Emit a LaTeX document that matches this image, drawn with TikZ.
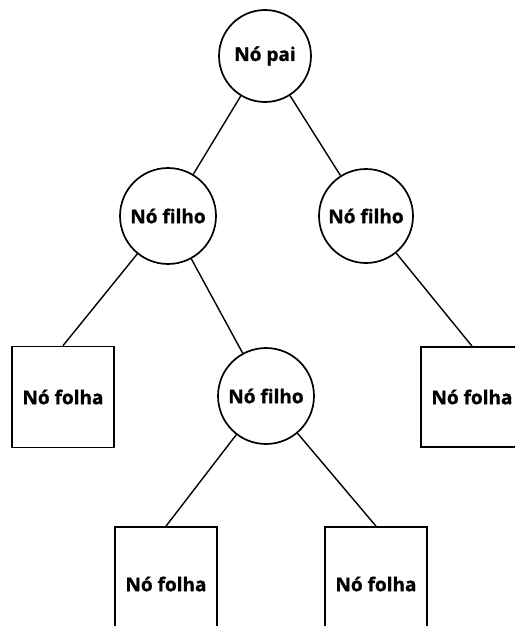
\documentclass[tikz,border=0pt]{standalone}
\usepackage{fontspec}
\setmainfont{Open Sans}[BoldFeatures={FakeBold=1.2}]
\begin{document}
\begin{tikzpicture}[x=1pt,y=-1pt,
  inner/.style={circle,draw,line width=1.7pt,minimum size=#1,inner sep=0pt,font=\fontsize{19}{22}\selectfont\bfseries},
  leaf/.style={rectangle,draw,line width=1.7pt,minimum width=102pt,inner sep=0pt,font=\fontsize{19}{22}\selectfont\bfseries},
  edge/.style={line width=1.4pt}]
\useasboundingbox (0,0) rectangle (514,626);
\node[inner=92pt] (root) at (265,56) {Nó pai};
\node[inner=96pt] (lc) at (168,216) {Nó filho};
\node[inner=94pt] (rc) at (366,216) {Nó filho};
\node[inner=96pt] (mc) at (266,396) {Nó filho};
\node[leaf,minimum height=101pt] (l1) at (63,397) {Nó folha};
\node[leaf,minimum height=100pt] (l2) at (472,397) {Nó folha};
\node[leaf,minimum height=114pt] (l3) at (166,584) {Nó folha};
\node[leaf,minimum height=114pt] (l4) at (376,584) {Nó folha};
\draw[edge] (root) -- (lc);
\draw[edge] (root) -- (rc);
\draw[edge] (lc) -- (l1.north);
\draw[edge] (lc) -- (mc);
\draw[edge] (rc) -- (l2.north);
\draw[edge] (mc) -- (l3.north);
\draw[edge] (mc) -- (l4.north);
\end{tikzpicture}
\end{document}
